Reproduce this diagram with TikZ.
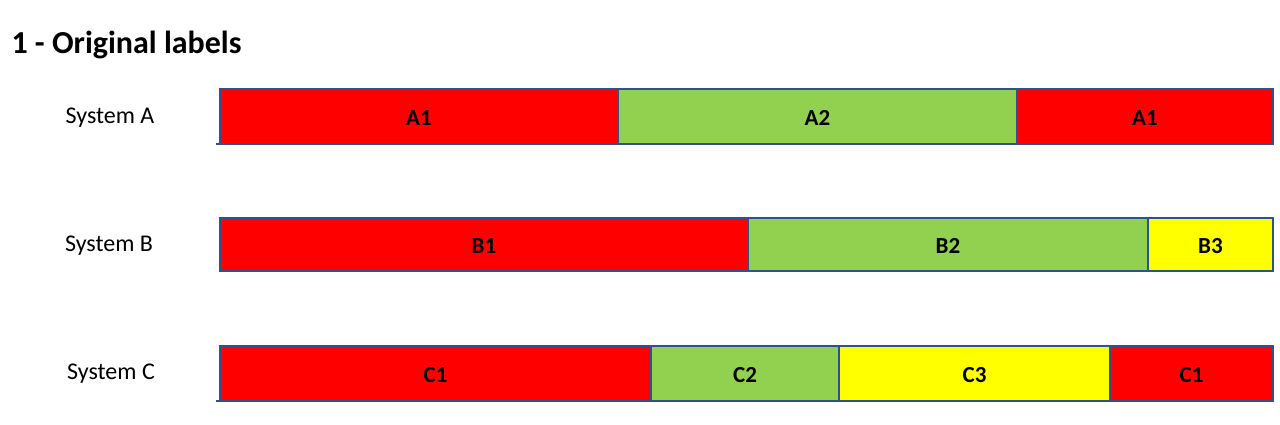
\documentclass[tikz,border=0pt]{standalone}
\usepackage{fontspec}
\setmainfont{Carlito}
\definecolor{segred}{HTML}{FF0000}
\definecolor{seggreen}{HTML}{92D050}
\definecolor{segyellow}{HTML}{FFFF00}
\definecolor{segline}{HTML}{2F528F}
\begin{document}
\begin{tikzpicture}[x=1pt,y=-1pt,
  seg/.style={draw=segline,line width=1.2pt,inner sep=0pt,outer sep=0pt,anchor=north west,
    font=\fontsize{23}{26}\selectfont\bfseries,text depth=0pt,text height=18pt},
  sysl/.style={font=\fontsize{24}{28}\selectfont},
  ttl/.style={font=\fontsize{32}{36}\selectfont\bfseries,anchor=west}]
\useasboundingbox (0,0) rectangle (1280,425);
\node[ttl] (title) at (8,45) {1 - Original labels};
% row A
\node[sysl] (sa) at (110,118) {System A};
\node[seg,fill=segred,minimum width=398pt,minimum height=55pt] (a1) at (220,89) {A1};
\node[seg,fill=seggreen,minimum width=399pt,minimum height=55pt] (a2) at (618,89) {A2};
\node[seg,fill=segred,minimum width=256pt,minimum height=55pt] (a3) at (1017,89) {A1};
\coordinate (aL) at (216,144);
\draw[segline,line width=1.2pt] (aL) -- (a3.south east);
% row B
\node[sysl] (sb) at (109,246) {System B};
\node[seg,fill=segred,minimum width=528pt,minimum height=53pt] (b1) at (220,218) {B1};
\node[seg,fill=seggreen,minimum width=400pt,minimum height=53pt] (b2) at (748,218) {B2};
\node[seg,fill=segyellow,minimum width=125pt,minimum height=53pt] (b3) at (1148,218) {B3};
% row C
\node[sysl] (sc) at (111,374) {System C};
\node[seg,fill=segred,minimum width=431pt,minimum height=55pt] (c1) at (220,346) {C1};
\node[seg,fill=seggreen,minimum width=188pt,minimum height=55pt] (c2) at (651,346) {C2};
\node[seg,fill=segyellow,minimum width=271pt,minimum height=55pt] (c3) at (839,346) {C3};
\node[seg,fill=segred,minimum width=163pt,minimum height=55pt] (c4) at (1110,346) {C1};
\coordinate (cL) at (216,401);
\draw[segline,line width=1.2pt] (cL) -- (c4.south east);
\end{tikzpicture}
\end{document}
